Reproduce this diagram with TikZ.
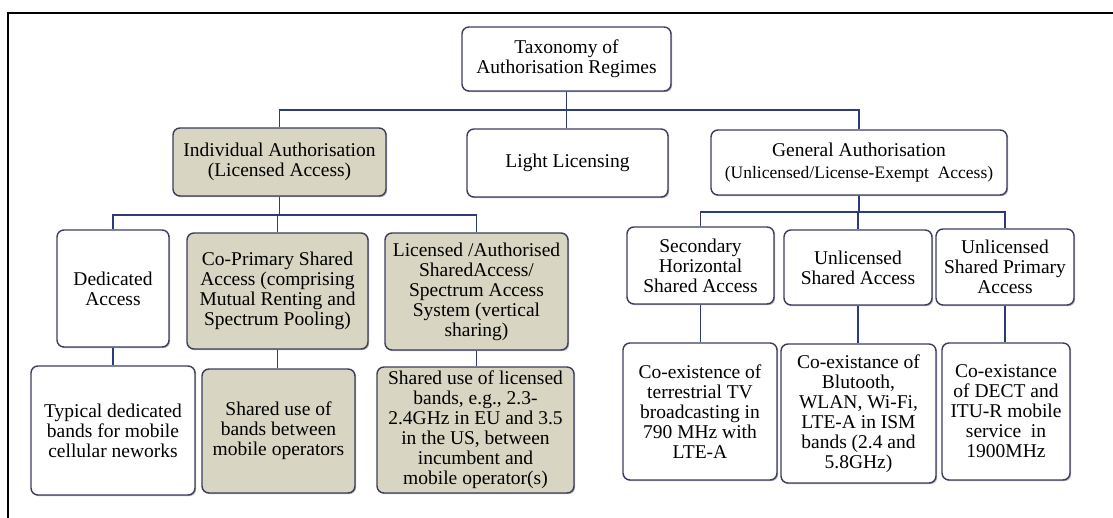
\documentclass[tikz,border=0pt]{standalone}
\usepackage{fontspec}
\setmainfont{Liberation Serif}
\usetikzlibrary{shadows}
\definecolor{boxline}{HTML}{3C3C60}
\definecolor{shade}{HTML}{D8D6C2}
\definecolor{wire}{HTML}{2F3A7A}
\begin{document}
\begin{tikzpicture}[x=1pt,y=-1pt,
  regime/.style={draw=boxline, line width=1.4pt, rounded corners=7pt, fill=white,
    align=center, inner sep=0pt, font=\fontsize{19.5}{20}\selectfont,
    drop shadow={shadow xshift=1.2pt, shadow yshift=-1.2pt, fill=black, opacity=0.3}},
  licensed/.style={regime, fill=shade},
  wiring/.style={draw=wire, line width=1.3pt}]
\useasboundingbox (0,0) rectangle (1113,518);
% outer frame (left and top edges)
\draw[line width=1.8pt] (8,518) -- (8,13) -- (1113,13);

% root
\node[regime, minimum width=209pt, minimum height=64pt] (root) at (566.5,59)
  {Taxonomy of\\Authorisation Regimes};

% first level
\node[licensed, minimum width=213pt, minimum height=68pt] (ia) at (279.5,162)
  {Individual Authorisation\\(Licensed Access)};
\node[regime, minimum width=201pt, minimum height=68pt] (ll) at (567.5,163)
  {Light Licensing};
\node[regime, minimum width=296pt, minimum height=65pt] (ga) at (859,162.5)
  {General Authorisation\\[2pt]{\fontsize{17.5}{19}\selectfont(Unlicensed/License-Exempt\ \ Access)}};

% second level, licensed side
\node[regime, minimum width=112pt, minimum height=117pt] (ded) at (113,288.5)
  {Dedicated\\Access};
\node[licensed, minimum width=181pt, minimum height=116pt] (cop) at (277.5,291)
  {Co-Primary Shared\\Access (comprising\\Mutual Renting and\\Spectrum Pooling)};
\node[licensed, minimum width=183pt, minimum height=117pt] (lsa) at (476.5,291.5)
  {Licensed /Authorised\\SharedAccess/\\Spectrum Access\\System (vertical\\sharing)};

% second level, unlicensed side
\node[regime, minimum width=147pt, minimum height=77pt] (sec) at (700.5,265.5)
  {Secondary\\Horizontal\\Shared Access};
\node[regime, minimum width=148pt, minimum height=75pt] (usa) at (858,267.5)
  {Unlicensed\\Shared Access};
\node[regime, minimum width=138pt, minimum height=76pt] (uspa) at (1005,267)
  {Unlicensed\\Shared Primary\\Access};

% examples
\node[regime, minimum width=164pt, minimum height=129pt] (typ) at (113,430.5)
  {Typical dedicated\\bands for mobile\\cellular neworks};
\node[licensed, minimum width=153pt, minimum height=124pt] (sb) at (278.5,431)
  {Shared use of\\bands between\\mobile operators};
\node[licensed, minimum width=197pt, minimum height=126pt] (sl) at (475.5,430)
  {Shared use of licensed\\bands, e.g., 2.3-\\2.4GHz in EU and 3.5\\in the US, between\\incumbent and\\mobile operator(s)};
\node[regime, minimum width=154pt, minimum height=137pt] (tv) at (700,411.5)
  {Co-existence of\\terrestrial TV\\broadcasting in\\790 MHz with\\LTE-A};
\node[regime, minimum width=155pt, minimum height=139pt] (bt) at (858.5,413.5)
  {Co-existance of\\Blutooth,\\WLAN, Wi-Fi,\\LTE-A in ISM\\bands (2.4 and\\5.8GHz)};
\node[regime, minimum width=128pt, minimum height=137pt] (dect) at (1006,411.5)
  {Co-existance\\of DECT and\\ITU-R mobile\\service\ \ in\\1900MHz};

% buses
\coordinate (busA) at (0,110);
\coordinate (busB) at (0,215);
\coordinate (busC) at (0,212);

\draw[wiring] (root.south) -- (root.south |- ll.north);
\draw[wiring] (ia.north) -- (ia.north |- busA) -- (ga.north |- busA) -- (ga.north);

\draw[wiring] (ia.south) -- (ia.south |- busB);
\draw[wiring] (ded.north) -- (ded.north |- busB) -- (lsa.north |- busB) -- (lsa.north);
\draw[wiring] (cop.north) -- (cop.north |- busB);

\draw[wiring] (ga.south) -- (ga.south |- busC);
\draw[wiring] (sec.north) -- (sec.north |- busC) -- (uspa.north |- busC) -- (uspa.north);
\draw[wiring] (usa.north) -- (usa.north |- busC);

\draw[wiring] (ded.south) -- (ded.south |- typ.north);
\draw[wiring] (cop.south) -- (cop.south |- sb.north);
\draw[wiring] (lsa.south) -- (lsa.south |- sl.north);
\draw[wiring] (sec.south) -- (sec.south |- tv.north);
\draw[wiring] (usa.south) -- (usa.south |- bt.north);
\draw[wiring] (uspa.south) -- (uspa.south |- dect.north);
\end{tikzpicture}
\end{document}
